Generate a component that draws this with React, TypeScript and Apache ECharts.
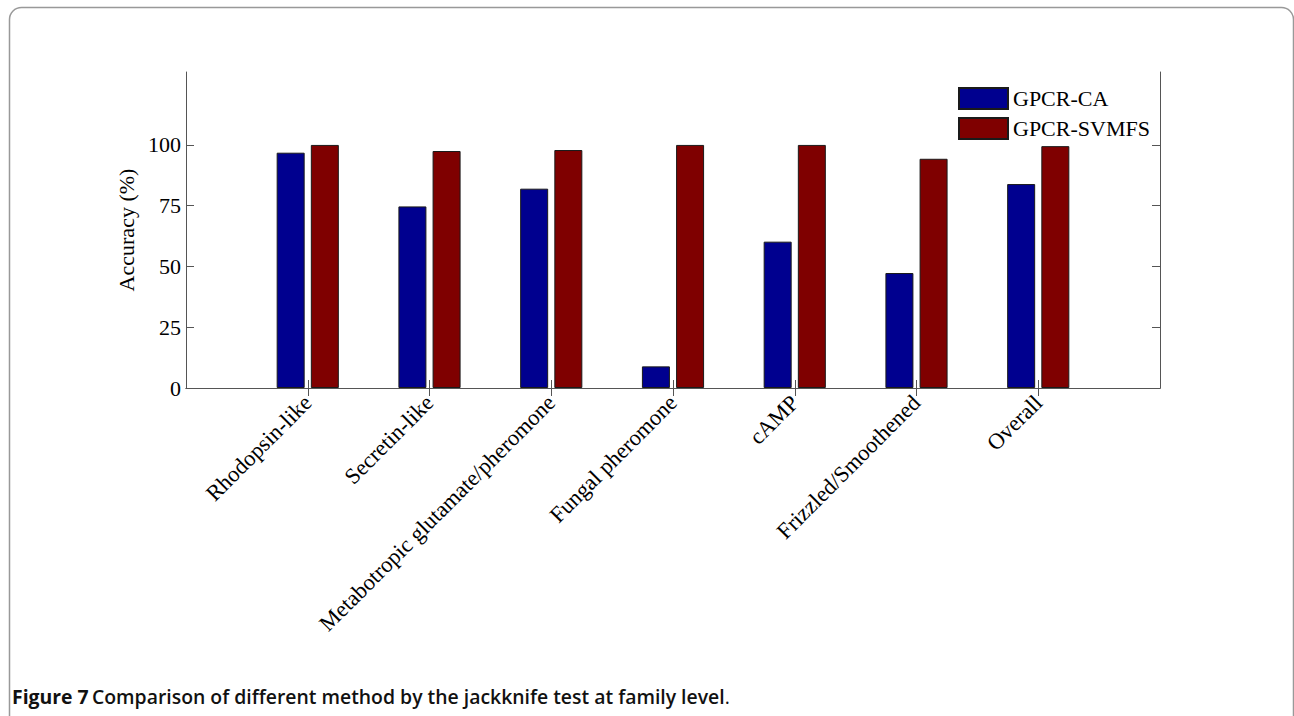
import React, { useEffect, useRef } from "react";
import * as echarts from "echarts";

// GPCR family categories (empty slots pad the axis on both sides)
const categories = [
  "",
  "Rhodopsin-like",
  "Secretin-like",
  "Metabotropic glutamate/pheromone",
  "Fungal pheromone",
  "cAMP",
  "Frizzled/Smoothened",
  "Overall",
  "",
];

const seriesNames = ["GPCR-CA", "GPCR-SVMFS"];
const gpcrCA = [null, 96.8, 74.7, 82.0, 8.9, 60.2, 47.3, 83.9, null];
const gpcrSVMFS = [null, 100, 97.5, 97.9, 100, 100, 94.3, 99.5, null];
const yTicks = [0, 25, 50, 75, 100];

const SERIF = "'Liberation Serif', 'Times New Roman', serif";
const SANS = "'Open Sans', 'Noto Sans', sans-serif";

export default function App() {
  const ref = useRef<HTMLDivElement>(null);

  useEffect(() => {
    if (!ref.current) return;
    const chart = echarts.init(ref.current, null, { renderer: "svg" });
    const axisLine = { show: true, lineStyle: { color: "#555", width: 1 } };
    const innerCats = (i: number) => i > 0 && i < categories.length - 1;
    const tick = { show: true, inside: true, length: 8, lineStyle: { color: "#555" } };

    chart.setOption({
      animation: false,
      backgroundColor: "#fff",
      grid: { left: 186, top: 72, right: 134, bottom: 328, show: false },
      legend: {
        data: seriesNames,
        orient: "vertical",
        left: 958,
        top: 87,
        padding: 0,
        itemWidth: 49,
        itemHeight: 21,
        itemGap: 7,
        icon: "rect",
        textStyle: { fontFamily: SERIF, fontSize: 22, lineHeight: 21, color: "#000" },
      },
      xAxis: [
        {
          type: "category",
          data: categories,
          boundaryGap: false,
          position: "bottom",
          axisLine,
          axisTick: { ...tick, interval: innerCats },
          axisLabel: {
            interval: 0,
            rotate: 45,
            margin: 11,
            fontFamily: SERIF,
            fontSize: 22.5,
            color: "#000",
          },
          splitLine: { show: false },
        },
        {
          type: "category",
          data: categories,
          boundaryGap: false,
          position: "top",
          axisLine,
          axisTick: { ...tick, interval: innerCats },
          axisLabel: { show: false },
        },
      ],
      yAxis: [
        {
          type: "value",
          min: 0,
          max: 130,
          position: "left",
          name: "Accuracy (%)",
          nameLocation: "middle",
          nameGap: 34,
          nameTextStyle: { fontFamily: SERIF, fontSize: 22, color: "#000" },
          axisLine,
          axisTick: { ...tick, customValues: yTicks },
          axisLabel: {
            customValues: yTicks,
            fontFamily: SERIF,
            fontSize: 22,
            color: "#000",
            margin: 5,
          },
          splitLine: { show: false },
        },
        {
          type: "value",
          min: 0,
          max: 130,
          position: "right",
          axisLine,
          axisTick: { ...tick, customValues: yTicks },
          axisLabel: { show: false },
          splitLine: { show: false },
        },
      ],
      series: [
        {
          name: seriesNames[0],
          type: "bar",
          data: gpcrCA,
          barWidth: 28,
          barGap: "22%",
          itemStyle: { color: "#00008f", borderColor: "#1a1a1a", borderWidth: 1 },
        },
        {
          name: seriesNames[1],
          type: "bar",
          data: gpcrSVMFS,
          barWidth: 28,
          barGap: "22%",
          itemStyle: { color: "#7f0000", borderColor: "#1a1a1a", borderWidth: 1 },
        },
      ],
      graphic: [
        {
          type: "rect",
          silent: true,
          shape: { x: 9.5, y: 7.5, width: 1284, height: 780, r: 12 },
          style: { fill: "none", stroke: "#999", lineWidth: 1.5 },
        },
        {
          type: "text",
          left: 12,
          top: 687,
          style: {
            text: "{b|Figure 7} {s|Comparison of different method by the jackknife test at family level}{n|.}",
            rich: {
              b: { fontFamily: SANS, fontWeight: 700, fontSize: 19.4, fill: "#111" },
              s: { fontFamily: SANS, fontWeight: 600, fontSize: 19.4, fill: "#111" },
              n: { fontFamily: SANS, fontWeight: 400, fontSize: 19.4, fill: "#111" },
            },
          },
        },
      ],
    });
    return () => chart.dispose();
  }, []);

  return (
    <div
      ref={ref}
      style={{ position: "fixed", left: 0, top: 0, width: 1294, height: 716 }}
    />
  );
}
